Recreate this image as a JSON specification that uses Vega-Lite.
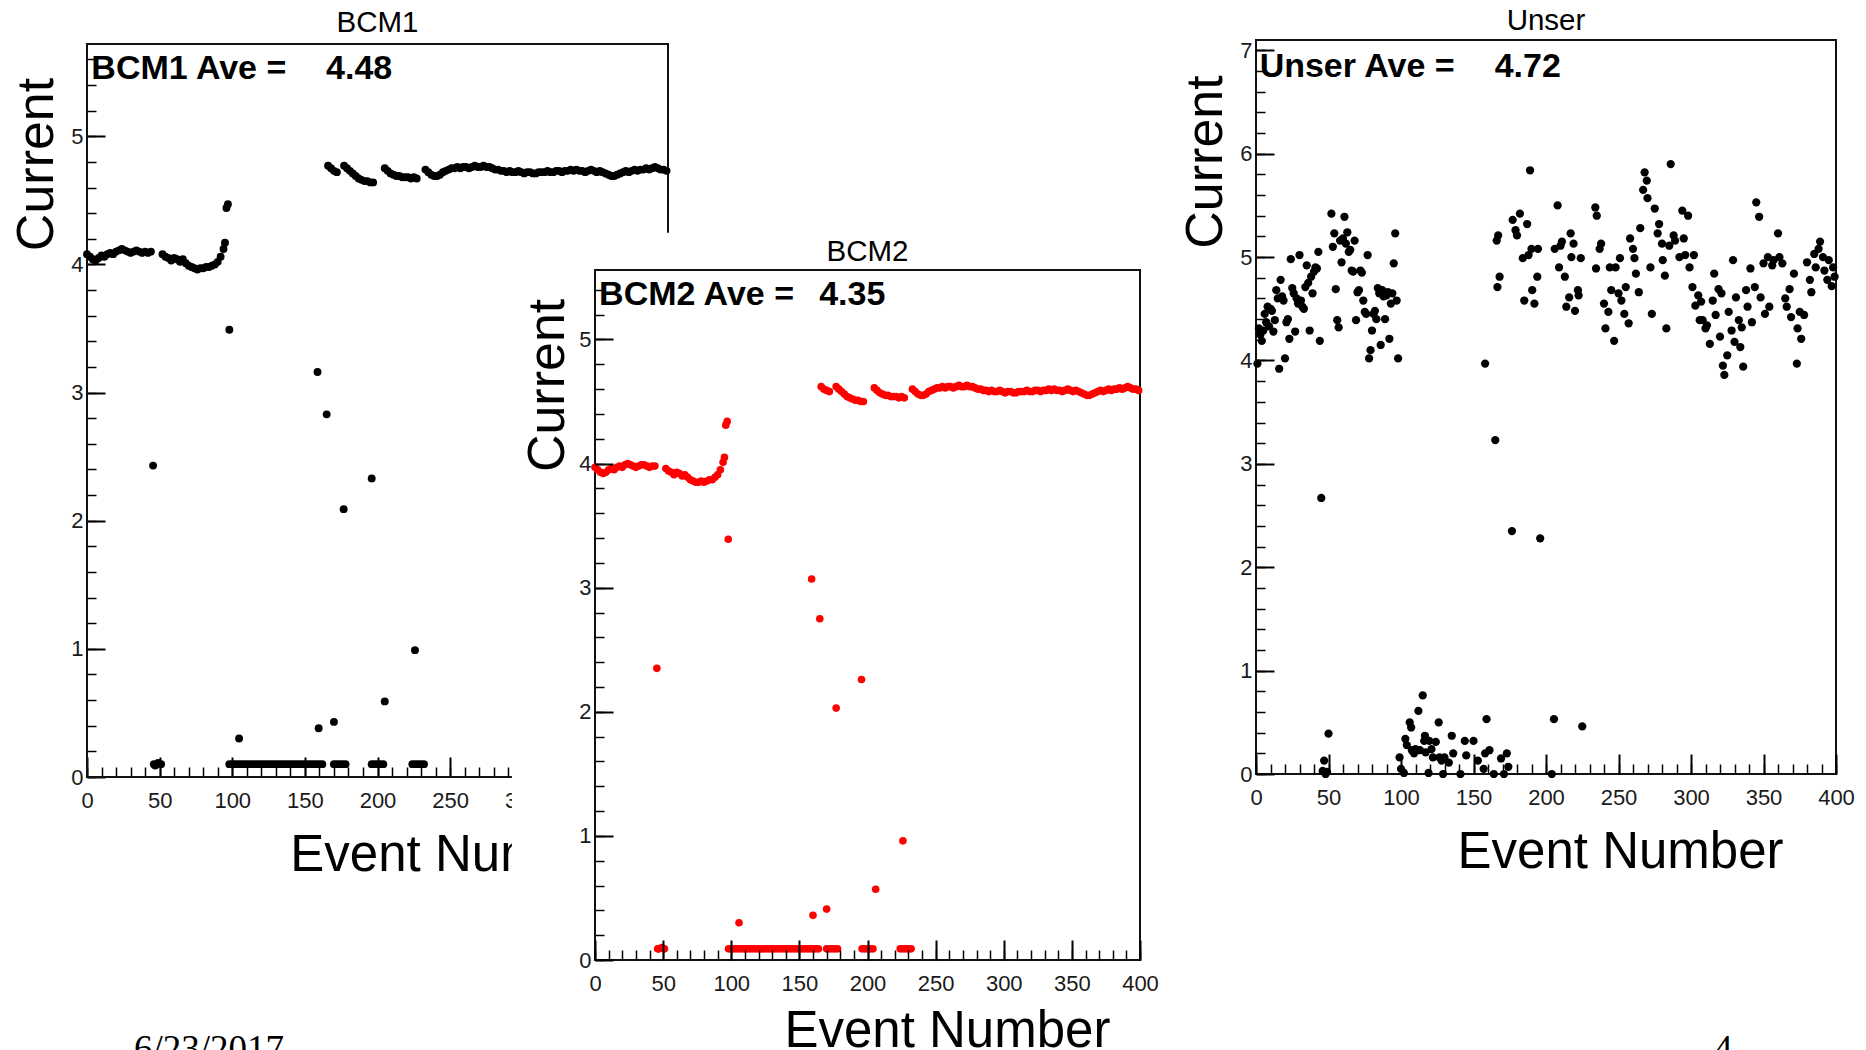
{
"$schema":"https://vega.github.io/schema/vega-lite/v6.json",
"width":1866,"height":1050,"autosize":"none","padding":0,"background":"white",
"config":{"view":{"stroke":null},"axis":{"domain":false,"grid":false,"labelFlush":false,"labelOverlap":false,"tickColor":"#000000","tickWidth":2,"labelFont":"Liberation Sans","labelFontSize":22,"labelColor":"#1a1a1a"}},
"data":{"values":[{}]},
"datasets":{
"b1":[{"e":0,"c":4.08},{"e":2,"c":4.06},{"e":4,"c":4.04},{"e":6,"c":4.03},{"e":8,"c":4.05},{"e":10,"c":4.07},{"e":12,"c":4.06},{"e":14,"c":4.08},{"e":16,"c":4.09},{"e":18,"c":4.08},{"e":20,"c":4.1},{"e":22,"c":4.11},{"e":24,"c":4.12},{"e":26,"c":4.11},{"e":28,"c":4.1},{"e":30,"c":4.09},{"e":32,"c":4.1},{"e":34,"c":4.11},{"e":36,"c":4.1},{"e":38,"c":4.09},{"e":40,"c":4.1},{"e":42,"c":4.09},{"e":44,"c":4.1},
{"e":45.5,"c":2.43},{"e":46,"c":0.1},{"e":47,"c":0.09},{"e":49,"c":0.11},{"e":51,"c":0.1},
{"e":52,"c":4.08},{"e":54,"c":4.06},{"e":56,"c":4.05},{"e":58,"c":4.03},{"e":60,"c":4.05},{"e":62,"c":4.04},{"e":64,"c":4.02},{"e":66,"c":4.04},{"e":68,"c":4.01},{"e":70,"c":3.99},{"e":72,"c":3.98},{"e":74,"c":3.97},{"e":76,"c":3.96},{"e":78,"c":3.97},{"e":80,"c":3.97},{"e":82,"c":3.98},{"e":84,"c":3.98},{"e":86,"c":3.99},{"e":88,"c":4.0},{"e":90,"c":4.02},{"e":92,"c":4.06},{"e":94,"c":4.12},{"e":95,"c":4.17},{"e":96,"c":4.44},{"e":97,"c":4.47},
{"e":98,"c":3.49},
{"e":98,"c":0.1},{"e":100,"c":0.1},{"e":102,"c":0.1},{"e":104,"c":0.1},{"e":106,"c":0.1},{"e":108,"c":0.1},{"e":110,"c":0.1},{"e":112,"c":0.1},{"e":114,"c":0.1},{"e":116,"c":0.1},{"e":118,"c":0.1},{"e":120,"c":0.1},{"e":122,"c":0.1},{"e":124,"c":0.1},{"e":126,"c":0.1},{"e":128,"c":0.1},{"e":130,"c":0.1},{"e":132,"c":0.1},{"e":134,"c":0.1},{"e":136,"c":0.1},{"e":138,"c":0.1},{"e":140,"c":0.1},{"e":142,"c":0.1},{"e":144,"c":0.1},{"e":146,"c":0.1},{"e":148,"c":0.1},{"e":150,"c":0.1},{"e":152,"c":0.1},{"e":154,"c":0.1},{"e":156,"c":0.1},{"e":158,"c":0.1},{"e":160,"c":0.1},{"e":162,"c":0.1},
{"e":104.7,"c":0.3},{"e":158.7,"c":3.16},{"e":159.5,"c":0.38},{"e":165,"c":2.83},{"e":170,"c":0.43},{"e":176.7,"c":2.09},{"e":196,"c":2.33},{"e":205,"c":0.59},{"e":225.8,"c":0.99},
{"e":166,"c":4.77},{"e":168,"c":4.75},{"e":170,"c":4.73},{"e":172,"c":4.72},
{"e":170,"c":0.1},{"e":172,"c":0.1},{"e":174,"c":0.1},{"e":176,"c":0.1},{"e":178,"c":0.1},
{"e":177,"c":4.77},{"e":179,"c":4.75},{"e":181,"c":4.73},{"e":183,"c":4.71},{"e":185,"c":4.69},{"e":187,"c":4.67},{"e":189,"c":4.66},{"e":191,"c":4.65},{"e":193,"c":4.65},{"e":195,"c":4.64},{"e":197,"c":4.64},
{"e":196,"c":0.1},{"e":198,"c":0.1},{"e":200,"c":0.1},{"e":202,"c":0.1},{"e":204,"c":0.1},
{"e":205,"c":4.75},{"e":207,"c":4.73},{"e":209,"c":4.71},{"e":211,"c":4.7},{"e":213,"c":4.69},{"e":215,"c":4.69},{"e":217,"c":4.68},{"e":219,"c":4.68},{"e":221,"c":4.68},{"e":223,"c":4.67},{"e":225,"c":4.68},{"e":227,"c":4.67},
{"e":224,"c":0.1},{"e":226,"c":0.1},{"e":228,"c":0.1},{"e":230,"c":0.1},{"e":232,"c":0.1},
{"e":233,"c":4.74},{"e":235,"c":4.72},{"e":237,"c":4.7},{"e":239,"c":4.69},{"e":241,"c":4.69},{"e":243,"c":4.7},{"e":245,"c":4.72},{"e":247,"c":4.73},{"e":249,"c":4.74},{"e":251,"c":4.75},{"e":253,"c":4.75},{"e":255,"c":4.76},{"e":257,"c":4.75},{"e":259,"c":4.76},{"e":261,"c":4.76},{"e":263,"c":4.75},{"e":265,"c":4.76},{"e":267,"c":4.77},{"e":269,"c":4.76},{"e":271,"c":4.76},{"e":273,"c":4.77},{"e":275,"c":4.76},{"e":277,"c":4.76},{"e":279,"c":4.75},{"e":281,"c":4.74},{"e":283,"c":4.74},{"e":285,"c":4.73},{"e":287,"c":4.73},{"e":289,"c":4.72},{"e":291,"c":4.73},{"e":293,"c":4.72},{"e":295,"c":4.72},{"e":297,"c":4.73},{"e":299,"c":4.72},{"e":301,"c":4.71},{"e":303,"c":4.72},{"e":305,"c":4.72},{"e":307,"c":4.71},{"e":309,"c":4.71},{"e":311,"c":4.72},{"e":313,"c":4.72},{"e":315,"c":4.72},{"e":317,"c":4.73},{"e":319,"c":4.72},{"e":321,"c":4.72},{"e":323,"c":4.73},{"e":325,"c":4.73},{"e":327,"c":4.72},{"e":329,"c":4.73},{"e":331,"c":4.73},{"e":333,"c":4.74},{"e":335,"c":4.73},{"e":337,"c":4.74},{"e":339,"c":4.73},{"e":341,"c":4.73},{"e":343,"c":4.72},{"e":345,"c":4.73},{"e":347,"c":4.74},{"e":349,"c":4.73},{"e":351,"c":4.72},{"e":353,"c":4.73},{"e":355,"c":4.72},{"e":357,"c":4.71},{"e":359,"c":4.7},{"e":361,"c":4.69},{"e":363,"c":4.69},{"e":365,"c":4.7},{"e":367,"c":4.71},{"e":369,"c":4.72},{"e":371,"c":4.73},{"e":373,"c":4.72},{"e":375,"c":4.73},{"e":377,"c":4.74},{"e":379,"c":4.73},{"e":381,"c":4.74},{"e":383,"c":4.74},{"e":385,"c":4.75},{"e":387,"c":4.74},{"e":389,"c":4.75},{"e":391,"c":4.76},{"e":393,"c":4.75},{"e":395,"c":4.74},{"e":397,"c":4.74},{"e":399,"c":4.73}],
"b2":[{"e":0,"c":3.97},{"e":2,"c":3.95},{"e":4,"c":3.93},{"e":6,"c":3.92},{"e":8,"c":3.93},{"e":10,"c":3.95},{"e":12,"c":3.96},{"e":14,"c":3.95},{"e":16,"c":3.97},{"e":18,"c":3.98},{"e":20,"c":3.97},{"e":22,"c":3.99},{"e":24,"c":4.0},{"e":26,"c":3.99},{"e":28,"c":3.98},{"e":30,"c":3.97},{"e":32,"c":3.98},{"e":34,"c":3.99},{"e":36,"c":3.99},{"e":38,"c":3.98},{"e":40,"c":3.97},{"e":42,"c":3.98},{"e":44,"c":3.98},
{"e":45.4,"c":2.35},{"e":46,"c":0.09},{"e":47,"c":0.09},{"e":49,"c":0.1},{"e":51,"c":0.09},
{"e":52,"c":3.96},{"e":54,"c":3.94},{"e":56,"c":3.93},{"e":58,"c":3.91},{"e":60,"c":3.93},{"e":62,"c":3.92},{"e":64,"c":3.9},{"e":66,"c":3.91},{"e":68,"c":3.89},{"e":70,"c":3.87},{"e":72,"c":3.86},{"e":74,"c":3.85},{"e":76,"c":3.85},{"e":78,"c":3.86},{"e":80,"c":3.85},{"e":82,"c":3.86},{"e":84,"c":3.87},{"e":86,"c":3.87},{"e":88,"c":3.89},{"e":90,"c":3.91},{"e":92,"c":3.95},{"e":94,"c":4.01},{"e":95,"c":4.05},{"e":96,"c":4.31},{"e":97,"c":4.34},
{"e":97.8,"c":3.39},
{"e":98,"c":0.09},{"e":100,"c":0.09},{"e":102,"c":0.09},{"e":104,"c":0.09},{"e":106,"c":0.09},{"e":108,"c":0.09},{"e":110,"c":0.09},{"e":112,"c":0.09},{"e":114,"c":0.09},{"e":116,"c":0.09},{"e":118,"c":0.09},{"e":120,"c":0.09},{"e":122,"c":0.09},{"e":124,"c":0.09},{"e":126,"c":0.09},{"e":128,"c":0.09},{"e":130,"c":0.09},{"e":132,"c":0.09},{"e":134,"c":0.09},{"e":136,"c":0.09},{"e":138,"c":0.09},{"e":140,"c":0.09},{"e":142,"c":0.09},{"e":144,"c":0.09},{"e":146,"c":0.09},{"e":148,"c":0.09},{"e":150,"c":0.09},{"e":152,"c":0.09},{"e":154,"c":0.09},{"e":156,"c":0.09},{"e":158,"c":0.09},{"e":160,"c":0.09},{"e":162,"c":0.09},{"e":164,"c":0.09},
{"e":105.7,"c":0.3},{"e":159,"c":3.07},{"e":160,"c":0.36},{"e":165,"c":2.75},{"e":170,"c":0.41},{"e":177,"c":2.03},{"e":195.6,"c":2.26},{"e":206,"c":0.57},{"e":226,"c":0.96},
{"e":166,"c":4.62},{"e":168,"c":4.6},{"e":170,"c":4.59},{"e":172,"c":4.58},
{"e":170,"c":0.09},{"e":172,"c":0.09},{"e":174,"c":0.09},{"e":176,"c":0.09},{"e":178,"c":0.09},
{"e":177,"c":4.62},{"e":179,"c":4.6},{"e":181,"c":4.58},{"e":183,"c":4.56},{"e":185,"c":4.54},{"e":187,"c":4.53},{"e":189,"c":4.52},{"e":191,"c":4.51},{"e":193,"c":4.51},{"e":195,"c":4.5},{"e":197,"c":4.5},
{"e":196,"c":0.09},{"e":198,"c":0.09},{"e":200,"c":0.09},{"e":202,"c":0.09},{"e":204,"c":0.09},
{"e":205,"c":4.61},{"e":207,"c":4.59},{"e":209,"c":4.57},{"e":211,"c":4.56},{"e":213,"c":4.55},{"e":215,"c":4.55},{"e":217,"c":4.54},{"e":219,"c":4.54},{"e":221,"c":4.54},{"e":223,"c":4.53},{"e":225,"c":4.54},{"e":227,"c":4.53},
{"e":224,"c":0.09},{"e":226,"c":0.09},{"e":228,"c":0.09},{"e":230,"c":0.09},{"e":232,"c":0.09},
{"e":233,"c":4.6},{"e":235,"c":4.58},{"e":237,"c":4.56},{"e":239,"c":4.55},{"e":241,"c":4.55},{"e":243,"c":4.56},{"e":245,"c":4.58},{"e":247,"c":4.59},{"e":249,"c":4.6},{"e":251,"c":4.61},{"e":253,"c":4.61},{"e":255,"c":4.62},{"e":257,"c":4.61},{"e":259,"c":4.62},{"e":261,"c":4.62},{"e":263,"c":4.61},{"e":265,"c":4.62},{"e":267,"c":4.63},{"e":269,"c":4.62},{"e":271,"c":4.62},{"e":273,"c":4.63},{"e":275,"c":4.62},{"e":277,"c":4.62},{"e":279,"c":4.61},{"e":281,"c":4.6},{"e":283,"c":4.6},{"e":285,"c":4.59},{"e":287,"c":4.59},{"e":289,"c":4.58},{"e":291,"c":4.59},{"e":293,"c":4.58},{"e":295,"c":4.58},{"e":297,"c":4.59},{"e":299,"c":4.58},{"e":301,"c":4.57},{"e":303,"c":4.58},{"e":305,"c":4.58},{"e":307,"c":4.57},{"e":309,"c":4.57},{"e":311,"c":4.58},{"e":313,"c":4.58},{"e":315,"c":4.58},{"e":317,"c":4.59},{"e":319,"c":4.58},{"e":321,"c":4.58},{"e":323,"c":4.59},{"e":325,"c":4.59},{"e":327,"c":4.58},{"e":329,"c":4.59},{"e":331,"c":4.59},{"e":333,"c":4.6},{"e":335,"c":4.59},{"e":337,"c":4.6},{"e":339,"c":4.59},{"e":341,"c":4.59},{"e":343,"c":4.58},{"e":345,"c":4.59},{"e":347,"c":4.6},{"e":349,"c":4.59},{"e":351,"c":4.58},{"e":353,"c":4.59},{"e":355,"c":4.58},{"e":357,"c":4.57},{"e":359,"c":4.56},{"e":361,"c":4.55},{"e":363,"c":4.55},{"e":365,"c":4.56},{"e":367,"c":4.57},{"e":369,"c":4.58},{"e":371,"c":4.59},{"e":373,"c":4.58},{"e":375,"c":4.59},{"e":377,"c":4.6},{"e":379,"c":4.59},{"e":381,"c":4.6},{"e":383,"c":4.6},{"e":385,"c":4.61},{"e":387,"c":4.6},{"e":389,"c":4.61},{"e":391,"c":4.62},{"e":393,"c":4.61},{"e":395,"c":4.6},{"e":397,"c":4.6},{"e":399,"c":4.59}],
"un":[{"e":1,"c":3.97},{"e":2,"c":4.31},{"e":3,"c":4.25},{"e":4,"c":4.19},{"e":5,"c":4.29},{"e":6,"c":4.45},{"e":7,"c":4.37},{"e":8,"c":4.52},{"e":9,"c":4.33},{"e":10,"c":4.5},{"e":11,"c":4.48},{"e":12,"c":4.28},{"e":13,"c":4.39},{"e":14,"c":4.68},{"e":15,"c":4.6},{"e":16,"c":3.92},{"e":17,"c":4.78},{"e":18,"c":4.62},{"e":19,"c":4.58},{"e":20,"c":4.02},{"e":21,"c":4.37},{"e":22,"c":4.4},{"e":23,"c":4.21},{"e":24,"c":4.98},{"e":25,"c":4.7},{"e":26,"c":4.65},{"e":27,"c":4.28},{"e":28,"c":4.6},{"e":29,"c":4.55},{"e":30,"c":5.02},{"e":31,"c":4.58},{"e":32,"c":4.52},{"e":33,"c":4.5},{"e":34,"c":4.71},{"e":35,"c":4.92},{"e":36,"c":4.75},{"e":37,"c":4.29},{"e":38,"c":4.81},{"e":39,"c":4.65},{"e":40,"c":4.86},{"e":41,"c":4.9},{"e":42,"c":4.89},{"e":43,"c":5.05},{"e":44,"c":4.19},
{"e":52,"c":5.42},{"e":53,"c":5.1},{"e":54,"c":5.23},{"e":55,"c":4.69},{"e":56,"c":4.39},{"e":57,"c":4.32},{"e":58,"c":5.16},{"e":59,"c":4.95},{"e":60,"c":5.18},{"e":61,"c":5.39},{"e":62,"c":5.13},{"e":63,"c":5.24},{"e":64,"c":5.05},{"e":65,"c":5.07},{"e":66,"c":4.87},{"e":67,"c":4.86},{"e":68,"c":5.16},{"e":69,"c":4.39},{"e":70,"c":4.66},{"e":71,"c":4.68},{"e":72,"c":4.87},{"e":73,"c":4.85},{"e":74,"c":4.58},{"e":75,"c":4.47},{"e":76,"c":4.45},{"e":77,"c":5.02},{"e":78,"c":4.02},{"e":79,"c":4.1},{"e":80,"c":4.29},{"e":81,"c":4.45},{"e":82,"c":4.48},{"e":83,"c":4.4},{"e":84,"c":4.7},{"e":85,"c":4.65},{"e":86,"c":4.15},{"e":87,"c":4.68},{"e":88,"c":4.62},{"e":89,"c":4.4},{"e":90,"c":4.63},{"e":91,"c":4.66},{"e":92,"c":4.21},{"e":93,"c":4.55},{"e":94,"c":4.65},{"e":95,"c":4.94},{"e":96,"c":5.23},{"e":97,"c":4.58},{"e":98,"c":4.02},
{"e":158,"c":3.97},{"e":166,"c":5.16},{"e":167,"c":5.21},{"e":166.5,"c":4.71},{"e":168,"c":4.81},{"e":177,"c":5.36},{"e":179,"c":5.26},{"e":180,"c":5.21},{"e":182,"c":5.42},{"e":184,"c":4.99},{"e":185,"c":4.58},{"e":187,"c":5.32},{"e":188,"c":5.02},{"e":189,"c":5.84},{"e":190,"c":5.08},{"e":190.5,"c":4.68},{"e":192,"c":4.55},{"e":194,"c":4.81},{"e":194.5,"c":5.08},
{"e":206,"c":5.08},{"e":208,"c":5.5},{"e":209,"c":4.9},{"e":210,"c":5.11},{"e":211,"c":5.15},{"e":213,"c":4.81},{"e":214,"c":4.52},{"e":216,"c":4.61},{"e":217,"c":5.23},{"e":217.5,"c":5.0},{"e":219,"c":5.13},{"e":220,"c":4.48},{"e":222,"c":4.68},{"e":222.5,"c":4.63},{"e":224,"c":4.99},
{"e":234,"c":5.48},{"e":234.5,"c":4.89},{"e":235,"c":5.4},{"e":237,"c":5.08},{"e":238,"c":5.13},{"e":240,"c":4.55},{"e":241,"c":4.31},{"e":243,"c":4.47},{"e":244,"c":4.9},{"e":245,"c":4.68},{"e":247,"c":4.19},{"e":248,"c":4.9},{"e":250,"c":4.65},{"e":251,"c":4.99},{"e":252,"c":4.58},{"e":254,"c":4.45},{"e":255,"c":4.71},{"e":257,"c":4.36},{"e":258,"c":5.18},{"e":260,"c":5.08},{"e":261,"c":4.99},{"e":262,"c":4.84},{"e":264,"c":4.66},{"e":265,"c":5.28},{"e":267,"c":5.65},{"e":268,"c":5.82},{"e":269.5,"c":5.74},{"e":270,"c":5.57},{"e":272,"c":4.9},{"e":273,"c":4.45},{"e":275,"c":5.47},{"e":277,"c":5.23},{"e":278,"c":5.32},{"e":280,"c":5.13},{"e":280.5,"c":4.97},{"e":282,"c":4.82},{"e":283,"c":4.31},{"e":285,"c":5.11},{"e":286,"c":5.9},{"e":288,"c":5.21},{"e":289,"c":5.16},{"e":292,"c":5.0},{"e":294,"c":5.45},{"e":295,"c":5.18},{"e":296,"c":5.02},{"e":298,"c":5.4},{"e":299,"c":4.9},
{"e":301,"c":4.71},{"e":302,"c":5.02},{"e":303,"c":4.53},{"e":305,"c":4.63},{"e":306,"c":4.39},{"e":307,"c":4.57},{"e":308,"c":4.39},{"e":310,"c":4.31},{"e":311,"c":4.34},{"e":313,"c":4.16},{"e":315,"c":4.58},{"e":316,"c":4.84},{"e":317,"c":4.44},{"e":319,"c":4.69},{"e":320,"c":4.23},{"e":321,"c":4.65},{"e":322,"c":3.95},{"e":323,"c":3.86},{"e":325,"c":4.05},{"e":326,"c":4.47},{"e":328,"c":4.29},{"e":329,"c":4.97},{"e":330,"c":4.18},{"e":331,"c":4.61},{"e":333,"c":4.39},{"e":334,"c":4.13},{"e":335,"c":4.32},{"e":336,"c":3.94},{"e":338,"c":4.68},{"e":339,"c":4.52},{"e":341,"c":4.89},{"e":342,"c":4.37},{"e":344,"c":4.71},{"e":345,"c":5.53},{"e":347,"c":5.39},{"e":348,"c":4.61},{"e":350,"c":4.94},{"e":351,"c":4.45},{"e":353,"c":5.0},{"e":354,"c":4.52},{"e":356,"c":4.92},{"e":357,"c":4.97},{"e":360,"c":5.23},{"e":361,"c":5.0},{"e":363,"c":4.94},{"e":365,"c":4.6},{"e":366,"c":4.52},{"e":368,"c":4.69},{"e":369,"c":4.42},{"e":371,"c":4.84},{"e":373,"c":3.97},{"e":373.5,"c":4.31},{"e":375,"c":4.47},{"e":376,"c":4.21},{"e":378,"c":4.44},{"e":380,"c":4.95},{"e":382,"c":4.78},{"e":383,"c":4.66},{"e":385,"c":5.03},{"e":386,"c":4.9},{"e":388,"c":5.08},{"e":389,"c":5.15},{"e":391,"c":5.0},{"e":392,"c":4.87},{"e":394,"c":4.78},{"e":395,"c":4.97},{"e":397,"c":4.72},{"e":398,"c":4.9},{"e":399,"c":4.81},
{"e":45,"c":2.67},{"e":165,"c":3.23},{"e":176.5,"c":2.35},{"e":196,"c":2.28},{"e":50,"c":0.39},{"e":47,"c":0.13},{"e":46,"c":0.03},{"e":48,"c":0.0},{"e":49,"c":0.02},{"e":205.5,"c":0.53},{"e":225,"c":0.46},{"e":204,"c":0.0},
{"e":99,"c":0.16},{"e":100,"c":0.05},{"e":102,"c":0.01},{"e":103,"c":0.34},{"e":104,"c":0.28},{"e":106,"c":0.5},{"e":107,"c":0.45},{"e":107.5,"c":0.23},{"e":109,"c":0.2},{"e":110,"c":0.24},{"e":112,"c":0.61},{"e":113,"c":0.23},{"e":115,"c":0.76},{"e":116,"c":0.32},{"e":116.5,"c":0.37},{"e":117,"c":0.21},{"e":119,"c":0.01},{"e":119.5,"c":0.32},{"e":121,"c":0.24},{"e":122,"c":0.16},{"e":124,"c":0.31},{"e":126,"c":0.5},{"e":126.5,"c":0.16},{"e":128,"c":0.13},{"e":129,"c":0.0},{"e":130,"c":0.16},{"e":133,"c":0.11},{"e":135,"c":0.37},{"e":136,"c":0.2},{"e":141,"c":0.0},{"e":144,"c":0.32},{"e":145,"c":0.18},{"e":150,"c":0.32},{"e":153,"c":0.13},{"e":157,"c":0.05},{"e":158,"c":0.2},{"e":159,"c":0.53},{"e":161,"c":0.23},{"e":164,"c":0.0},{"e":169,"c":0.15},{"e":171,"c":0.0},{"e":173,"c":0.2},{"e":174,"c":0.07}]
},
"resolve":{"scale":{"x":"independent","y":"independent"},"axis":{"x":"independent","y":"independent"}},
"layer":[
{"mark":{"type":"rect","filled":false,"stroke":"#111111","strokeWidth":2},
 "encoding":{"x":{"datum":0,"type":"quantitative","scale":{"domain":[0,400],"range":[87,668],"nice":false,"zero":false},"axis":{"orient":"bottom","offset":-273,"values":[0,10,20,30,40,50,60,70,80,90,100,110,120,130,140,150,160,170,180,190,200,210,220,230,240,250,260,270,280,290,300,310,320,330,340,350,360,370,380,390,400],"tickSize":-10,"tickWidth":1.5,"labels":false,"title":null,"zindex":0}},
 "x2":{"datum":400},
 "y":{"datum":0,"type":"quantitative","scale":{"domain":[0,5.72],"range":[777,44],"nice":false,"zero":false},"axis":{"orient":"left","offset":-87,"values":[0,0.2,0.4,0.6,0.8,1,1.2,1.4,1.6,1.8,2,2.2,2.4,2.6,2.8,3,3.2,3.4,3.6,3.8,4,4.2,4.4,4.6,4.8,5,5.2,5.4,5.6],"tickSize":-9,"tickWidth":1.5,"labels":false,"title":null,"zindex":0}},
 "y2":{"datum":5.72}}},
{"data":{"name":"b1"},"mark":{"type":"circle","size":62,"color":"#000000","opacity":1},
 "encoding":{"x":{"field":"e","type":"quantitative","scale":{"domain":[0,400],"range":[87,668],"nice":false,"zero":false},"axis":{"orient":"bottom","offset":-273,"values":[0,50,100,150,200,250,300,350,400],"tickSize":-20,"labelPadding":33,"title":null,"zindex":0}},
 "y":{"field":"c","type":"quantitative","scale":{"domain":[0,5.72],"range":[777,44],"nice":false,"zero":false},"axis":{"orient":"left","offset":-87,"values":[0,1,2,3,4,5],"tickSize":-18,"labelPadding":22,"title":null,"zindex":0}}}},
{"mark":{"type":"text","text":"BCM1","font":"Liberation Sans","fontSize":29.5,"align":"center","baseline":"alphabetic","color":"#000000"},
 "encoding":{"x":{"datum":200,"type":"quantitative","scale":{"domain":[0,400],"range":[87,668],"nice":false,"zero":false},"axis":null},"y":{"datum":5.81,"type":"quantitative","scale":{"domain":[0,5.72],"range":[777,44],"nice":false,"zero":false},"axis":null}}},
{"mark":{"type":"text","text":"BCM1 Ave =","font":"Liberation Sans","fontWeight":"bold","fontSize":34,"align":"left","baseline":"alphabetic","color":"#000000"},
 "encoding":{"x":{"datum":3,"type":"quantitative","scale":{"domain":[0,400],"range":[87,668],"nice":false,"zero":false},"axis":null},"y":{"datum":5.446,"type":"quantitative","scale":{"domain":[0,5.72],"range":[777,44],"nice":false,"zero":false},"axis":null}}},
{"mark":{"type":"text","text":"4.48","font":"Liberation Sans","fontWeight":"bold","fontSize":34,"align":"left","baseline":"alphabetic","color":"#000000"},
 "encoding":{"x":{"datum":164.6,"type":"quantitative","scale":{"domain":[0,400],"range":[87,668],"nice":false,"zero":false},"axis":null},"y":{"datum":5.446,"type":"quantitative","scale":{"domain":[0,5.72],"range":[777,44],"nice":false,"zero":false},"axis":null}}},
{"mark":{"type":"text","text":"Current","font":"Liberation Sans","fontSize":52,"angle":270,"align":"center","baseline":"alphabetic","color":"#000000"},
 "encoding":{"x":{"datum":-23.1,"type":"quantitative","scale":{"domain":[0,400],"range":[87,668],"nice":false,"zero":false},"axis":null},"y":{"datum":4.78,"type":"quantitative","scale":{"domain":[0,5.72],"range":[777,44],"nice":false,"zero":false},"axis":null}}},
{"mark":{"type":"text","text":"Event Number","font":"Liberation Sans","fontSize":51,"align":"left","baseline":"alphabetic","color":"#000000"},
 "encoding":{"x":{"datum":140,"type":"quantitative","scale":{"domain":[0,400],"range":[87,668],"nice":false,"zero":false},"axis":null},"y":{"datum":-0.73,"type":"quantitative","scale":{"domain":[0,5.72],"range":[777,44],"nice":false,"zero":false},"axis":null}}},
{"mark":{"type":"text","text":"6/23/2017","font":"Liberation Serif","fontSize":37,"align":"left","baseline":"alphabetic","color":"#000000"},
 "encoding":{"x":{"datum":32.4,"type":"quantitative","scale":{"domain":[0,400],"range":[87,668],"nice":false,"zero":false},"axis":null},"y":{"datum":-2.22,"type":"quantitative","scale":{"domain":[0,5.72],"range":[777,44],"nice":false,"zero":false},"axis":null}}},

{"mark":{"type":"rect","color":"#ffffff","opacity":1},
 "encoding":{"x":{"datum":-61,"type":"quantitative","scale":{"domain":[0,400],"range":[595,1140],"nice":false,"zero":false},"axis":null},"x2":{"datum":415},"y":{"datum":-0.8,"type":"quantitative","scale":{"domain":[0,5.56],"range":[960,270],"nice":false,"zero":false},"axis":null},"y2":{"datum":5.86}}},
{"mark":{"type":"rect","filled":false,"stroke":"#111111","strokeWidth":2},
 "encoding":{"x":{"datum":0,"type":"quantitative","scale":{"domain":[0,400],"range":[595,1140],"nice":false,"zero":false},"axis":{"orient":"bottom","offset":-90,"values":[0,10,20,30,40,50,60,70,80,90,100,110,120,130,140,150,160,170,180,190,200,210,220,230,240,250,260,270,280,290,300,310,320,330,340,350,360,370,380,390,400],"tickSize":-10,"tickWidth":1.5,"labels":false,"title":null,"zindex":1}},
 "x2":{"datum":400},
 "y":{"datum":0,"type":"quantitative","scale":{"domain":[0,5.56],"range":[960,270],"nice":false,"zero":false},"axis":{"orient":"left","offset":-595,"values":[0,0.2,0.4,0.6,0.8,1,1.2,1.4,1.6,1.8,2,2.2,2.4,2.6,2.8,3,3.2,3.4,3.6,3.8,4,4.2,4.4,4.6,4.8,5,5.2,5.4],"tickSize":-9,"tickWidth":1.5,"labels":false,"title":null,"zindex":1}},
 "y2":{"datum":5.56}}},
{"data":{"name":"b2"},"mark":{"type":"circle","size":58,"color":"#ff0000","opacity":1},
 "encoding":{"x":{"field":"e","type":"quantitative","scale":{"domain":[0,400],"range":[595,1140],"nice":false,"zero":false},"axis":{"orient":"bottom","offset":-90,"values":[0,50,100,150,200,250,300,350,400],"tickSize":-20,"labelPadding":33,"title":null,"zindex":1}},
 "y":{"field":"c","type":"quantitative","scale":{"domain":[0,5.56],"range":[960,270],"nice":false,"zero":false},"axis":{"orient":"left","offset":-595,"values":[0,1,2,3,4,5],"tickSize":-18,"labelPadding":22,"title":null,"zindex":1}}}},
{"mark":{"type":"text","text":"BCM2","font":"Liberation Sans","fontSize":29.5,"align":"center","baseline":"alphabetic","color":"#000000"},
 "encoding":{"x":{"datum":200,"type":"quantitative","scale":{"domain":[0,400],"range":[595,1140],"nice":false,"zero":false},"axis":null},"y":{"datum":5.633,"type":"quantitative","scale":{"domain":[0,5.56],"range":[960,270],"nice":false,"zero":false},"axis":null}}},
{"mark":{"type":"text","text":"BCM2 Ave =","font":"Liberation Sans","fontWeight":"bold","fontSize":34,"align":"left","baseline":"alphabetic","color":"#000000"},
 "encoding":{"x":{"datum":3,"type":"quantitative","scale":{"domain":[0,400],"range":[595,1140],"nice":false,"zero":false},"axis":null},"y":{"datum":5.278,"type":"quantitative","scale":{"domain":[0,5.56],"range":[960,270],"nice":false,"zero":false},"axis":null}}},
{"mark":{"type":"text","text":"4.35","font":"Liberation Sans","fontWeight":"bold","fontSize":34,"align":"left","baseline":"alphabetic","color":"#000000"},
 "encoding":{"x":{"datum":164.5,"type":"quantitative","scale":{"domain":[0,400],"range":[595,1140],"nice":false,"zero":false},"axis":null},"y":{"datum":5.278,"type":"quantitative","scale":{"domain":[0,5.56],"range":[960,270],"nice":false,"zero":false},"axis":null}}},
{"mark":{"type":"text","text":"Current","font":"Liberation Sans","fontSize":52,"angle":270,"align":"center","baseline":"alphabetic","color":"#000000"},
 "encoding":{"x":{"datum":-23,"type":"quantitative","scale":{"domain":[0,400],"range":[595,1140],"nice":false,"zero":false},"axis":null},"y":{"datum":4.63,"type":"quantitative","scale":{"domain":[0,5.56],"range":[960,270],"nice":false,"zero":false},"axis":null}}},
{"mark":{"type":"text","text":"Event Number","font":"Liberation Sans","fontSize":51,"align":"left","baseline":"alphabetic","color":"#000000"},
 "encoding":{"x":{"datum":139,"type":"quantitative","scale":{"domain":[0,400],"range":[595,1140],"nice":false,"zero":false},"axis":null},"y":{"datum":-0.705,"type":"quantitative","scale":{"domain":[0,5.56],"range":[960,270],"nice":false,"zero":false},"axis":null}}},

{"mark":{"type":"rect","filled":false,"stroke":"#111111","strokeWidth":2},
 "encoding":{"x":{"datum":0,"type":"quantitative","scale":{"domain":[0,400],"range":[1256,1836],"nice":false,"zero":false},"axis":{"orient":"bottom","offset":-276,"values":[0,10,20,30,40,50,60,70,80,90,100,110,120,130,140,150,160,170,180,190,200,210,220,230,240,250,260,270,280,290,300,310,320,330,340,350,360,370,380,390,400],"tickSize":-10,"tickWidth":1.5,"labels":false,"title":null,"zindex":1}},
 "x2":{"datum":400},
 "y":{"datum":0,"type":"quantitative","scale":{"domain":[0,7.1],"range":[774,40],"nice":false,"zero":false},"axis":{"orient":"left","offset":-1256,"values":[0,0.2,0.4,0.6,0.8,1,1.2,1.4,1.6,1.8,2,2.2,2.4,2.6,2.8,3,3.2,3.4,3.6,3.8,4,4.2,4.4,4.6,4.8,5,5.2,5.4,5.6,5.8,6,6.2,6.4,6.6,6.8,7],"tickSize":-9,"tickWidth":1.5,"labels":false,"title":null,"zindex":1}},
 "y2":{"datum":7.1}}},
{"data":{"name":"un"},"mark":{"type":"circle","size":68,"color":"#000000","opacity":1},
 "encoding":{"x":{"field":"e","type":"quantitative","scale":{"domain":[0,400],"range":[1256,1836],"nice":false,"zero":false},"axis":{"orient":"bottom","offset":-276,"values":[0,50,100,150,200,250,300,350,400],"tickSize":-20,"labelPadding":33,"title":null,"zindex":1}},
 "y":{"field":"c","type":"quantitative","scale":{"domain":[0,7.1],"range":[774,40],"nice":false,"zero":false},"axis":{"orient":"left","offset":-1256,"values":[0,1,2,3,4,5,6,7],"tickSize":-18,"labelPadding":22,"title":null,"zindex":1}}}},
{"mark":{"type":"text","text":"Unser","font":"Liberation Sans","fontSize":29.5,"align":"center","baseline":"alphabetic","color":"#000000"},
 "encoding":{"x":{"datum":200,"type":"quantitative","scale":{"domain":[0,400],"range":[1256,1836],"nice":false,"zero":false},"axis":null},"y":{"datum":7.196,"type":"quantitative","scale":{"domain":[0,7.1],"range":[774,40],"nice":false,"zero":false},"axis":null}}},
{"mark":{"type":"text","text":"Unser Ave =","font":"Liberation Sans","fontWeight":"bold","fontSize":34,"align":"left","baseline":"alphabetic","color":"#000000"},
 "encoding":{"x":{"datum":2.5,"type":"quantitative","scale":{"domain":[0,400],"range":[1256,1836],"nice":false,"zero":false},"axis":null},"y":{"datum":6.746,"type":"quantitative","scale":{"domain":[0,7.1],"range":[774,40],"nice":false,"zero":false},"axis":null}}},
{"mark":{"type":"text","text":"4.72","font":"Liberation Sans","fontWeight":"bold","fontSize":34,"align":"left","baseline":"alphabetic","color":"#000000"},
 "encoding":{"x":{"datum":164.6,"type":"quantitative","scale":{"domain":[0,400],"range":[1256,1836],"nice":false,"zero":false},"axis":null},"y":{"datum":6.746,"type":"quantitative","scale":{"domain":[0,7.1],"range":[774,40],"nice":false,"zero":false},"axis":null}}},
{"mark":{"type":"text","text":"Current","font":"Liberation Sans","fontSize":52,"angle":270,"align":"center","baseline":"alphabetic","color":"#000000"},
 "encoding":{"x":{"datum":-23.5,"type":"quantitative","scale":{"domain":[0,400],"range":[1256,1836],"nice":false,"zero":false},"axis":null},"y":{"datum":5.92,"type":"quantitative","scale":{"domain":[0,7.1],"range":[774,40],"nice":false,"zero":false},"axis":null}}},
{"mark":{"type":"text","text":"Event Number","font":"Liberation Sans","fontSize":51,"align":"left","baseline":"alphabetic","color":"#000000"},
 "encoding":{"x":{"datum":139,"type":"quantitative","scale":{"domain":[0,400],"range":[1256,1836],"nice":false,"zero":false},"axis":null},"y":{"datum":-0.91,"type":"quantitative","scale":{"domain":[0,7.1],"range":[774,40],"nice":false,"zero":false},"axis":null}}},
{"mark":{"type":"text","text":"4","font":"Liberation Serif","fontSize":37,"align":"left","baseline":"alphabetic","color":"#000000"},
 "encoding":{"x":{"datum":315.9,"type":"quantitative","scale":{"domain":[0,400],"range":[1256,1836],"nice":false,"zero":false},"axis":null},"y":{"datum":-2.78,"type":"quantitative","scale":{"domain":[0,7.1],"range":[774,40],"nice":false,"zero":false},"axis":null}}}
]
}
